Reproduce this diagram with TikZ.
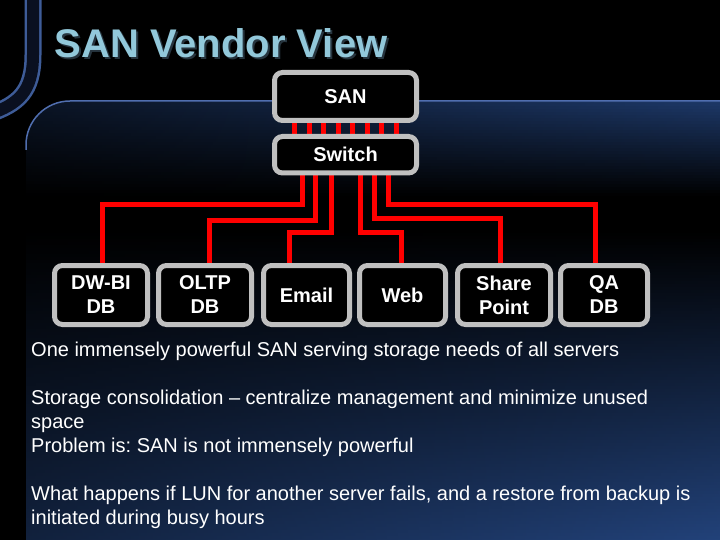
\documentclass[tikz,border=0pt]{standalone}
\usepackage{fontspec}
\setmainfont{Liberation Sans}
\frenchspacing
\definecolor{titleblue}{RGB}{146,200,218}
\definecolor{titleshadow}{RGB}{38,52,62}
\definecolor{boxgray}{RGB}{192,192,192}
\definecolor{wirered}{RGB}{255,0,0}
\definecolor{glowblue}{RGB}{34,66,122}
\definecolor{edgeblue}{RGB}{80,110,175}
\definecolor{tubeblue}{RGB}{62,92,152}
\definecolor{tubedark}{RGB}{10,16,32}
\pgfdeclarelayer{back}
\pgfdeclarelayer{wires}
\pgfsetlayers{back,wires,main}
\begin{document}
\begin{tikzpicture}[x=1pt,y=-1pt,
  box/.style={draw=boxgray, line width=5pt, fill=black, rounded corners=8pt, text=white,
    font=\bfseries\fontsize{20}{24}\selectfont, align=center, inner sep=0pt},
  wire/.style={draw=wirered, line width=5pt},
  body/.style={anchor=base west, inner sep=0pt, text=white, font=\fontsize{20}{24}\selectfont}]
\useasboundingbox (0,0) rectangle (720,540);
\begin{pgfonlayer}{back}
\fill[black] (0,0) rectangle (720,540);
\begin{scope}
\clip[rounded corners=44pt] (26,600) -- (26,101) -- (780,101) -- (780,600) -- cycle;
\foreach \y in {101,104,...,539}{
  \pgfmathsetmacro{\t}{max(0,1-(\y-101)/95)}
  \pgfmathsetmacro{\b}{max(0,(\y-230)/310)}
  \pgfmathsetmacro{\r}{100*max(0.85*\t,\b)}
  \pgfmathsetmacro{\l}{100*max(0.3*\t,0.5*\b)}
  \shade[left color=glowblue!\l!black, right color=glowblue!\r!black] (26,\y) rectangle (720,\y+3.5);
}
\end{scope}
\draw[edgeblue, line width=1.5pt, rounded corners=44pt] (26,150) -- (26,101) -- (720,101);
\draw[tubeblue, line width=17pt] (33,-10) -- (33,55) .. controls (33,92) and (18,104) .. (-10,114);
\draw[tubedark, line width=12pt] (33,-10) -- (33,55) .. controls (33,92) and (18,104) .. (-10,114);
\end{pgfonlayer}

\node[anchor=base west, inner sep=0pt, text=titleblue, font=\bfseries\fontsize{40}{48}\selectfont] (title) at (54.5,57.5)
  {\makebox[0pt][l]{\hspace{2pt}\raisebox{-2pt}{\color{titleshadow}SAN Vendor View}}SAN Vendor View};

\node[box, minimum width=142pt, minimum height=48pt] (san) at (345.5,96.5) {SAN};
\node[box, minimum width=142pt, minimum height=36.5pt] (sw) at (345.5,154.75) {Switch};

\node[box, minimum width=93pt, minimum height=59pt] (dwbi) at (101,295) {DW-BI\\DB};
\node[box, minimum width=93pt, minimum height=59pt] (oltp) at (205,295) {OLTP\\DB};
\node[box, minimum width=86pt, minimum height=59pt] (email) at (306.5,295) {Email};
\node[box, minimum width=86pt, minimum height=59pt] (web) at (402.5,295) {Web};
\node[box, minimum width=93pt, minimum height=59pt] (sp) at (504,295) {Share\\Point};
\node[box, minimum width=87pt, minimum height=59pt] (qa) at (604,295) {QA\\DB};

\begin{pgfonlayer}{wires}
\foreach \i in {0,...,7}
  \draw[wire] ([xshift={(\i-3.5)*14.5}]san.south) -- ([xshift={(\i-3.5)*14.5}]sw.north);
\draw[wire] ([xshift=-43.5]sw.south) -- ++(0,28.7) -| ([xshift=1]dwbi.north);
\draw[wire] ([xshift=-30.5]sw.south) -- ++(0,44.7) -| ([xshift=4]oltp.north);
\draw[wire] ([xshift=-14.5]sw.south) -- ++(0,57) -| ([xshift=-17.5]email.north);
\draw[wire] ([xshift=14.5]sw.south) -- ++(0,57) -| ([xshift=-1.5]web.north);
\draw[wire] ([xshift=29]sw.south) -- ++(0,43) -| ([xshift=-4]sp.north);
\draw[wire] ([xshift=42.5]sw.south) -- ++(0,28.7) -| ([xshift=-9]qa.north);
\end{pgfonlayer}

\node[body] (t1) at (31,356) {One immensely powerful SAN serving storage needs of all servers};
\node[body] (t2) at (31,404) {Storage consolidation -- centralize management and minimize unused};
\node[body] (t3) at (31,428) {space};
\node[body] (t4) at (31,452) {Problem is: SAN is not immensely powerful};
\node[body] (t5) at (31,500) {What happens if LUN for another server fails, and a restore from backup is};
\node[body] (t6) at (31,524) {initiated during busy hours};
\end{tikzpicture}
\end{document}
